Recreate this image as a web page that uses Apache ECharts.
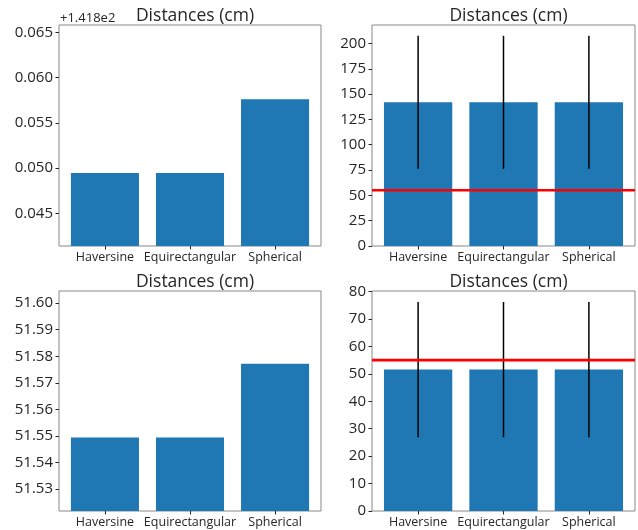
<!DOCTYPE html>
<html>
<head>
<meta charset="utf-8">
<script src="https://cdn.jsdelivr.net/npm/echarts@6/dist/echarts.min.js"></script>
<style>
html,body{margin:0;padding:0;background:#fff;}
#chart{width:638px;height:530px;}
</style>
</head>
<body>
<div id="chart"></div>
<script>
// ---- data ----
const categories = ['Haversine', 'Equirectangular', 'Spherical'];
const distTop = [141.84945, 141.84945, 141.8576];   // cm
const errTop = [65.7, 65.7, 65.7];
const distBottom = [51.5494, 51.5494, 51.5772];     // cm
const errBottom = [24.65, 24.65, 24.65];
const threshold = 55;
const titleText = 'Distances (cm)';
const offsetLabel = '+1.418e2';
const offsetValue = 141.8;
const ticksTopLeft = [141.845, 141.85, 141.855, 141.86, 141.865];
const ticksTopRight = [0, 25, 50, 75, 100, 125, 150, 175, 200];
const ticksBottomLeft = [51.53, 51.54, 51.55, 51.56, 51.57, 51.58, 51.59, 51.60];
const ticksBottomRight = [0, 10, 20, 30, 40, 50, 60, 70, 80];

const FONT = 'Open Sans';
const TEXT = '#262626';
const FRAME = '#888';
const BAR = '#1f77b4';

const chart = echarts.init(document.getElementById('chart'), null, {renderer: 'canvas'});

const grids = [
  {left: 59, top: 25, width: 262, height: 221},
  {left: 372, top: 25, width: 263, height: 221},
  {left: 59, top: 291, width: 262, height: 220},
  {left: 372, top: 291, width: 263, height: 220}
];

function xAxis(i) {
  return {
    type: 'value', gridIndex: i, min: -0.54, max: 2.54,
    axisLine: {show: false, onZero: false},
    splitLine: {show: false},
    axisTick: {show: true, customValues: [0, 1, 2], length: 3.5, lineStyle: {color: TEXT}},
    axisLabel: {
      customValues: [0, 1, 2], margin: 5,
      formatter: v => categories[Math.round(v)] || '',
      color: TEXT, fontFamily: FONT, fontSize: 12.5
    }
  };
}
function yAxis(i, min, max, ticks, fmt) {
  return {
    type: 'value', gridIndex: i, min: min, max: max,
    axisLine: {show: false, onZero: false},
    splitLine: {show: false},
    axisTick: {show: true, customValues: ticks, length: 3.5, lineStyle: {color: TEXT}},
    axisLabel: {customValues: ticks, margin: 6, formatter: fmt, color: TEXT, fontFamily: FONT, fontSize: 15}
  };
}

function barRender(params, api) {
  const x = api.value(0), y = api.value(1);
  const p1 = api.coord([x - 0.4, y]);
  const p0 = api.coord([x + 0.4, 0]);
  const cs = params.coordSys;
  const r = echarts.graphic.clipRectByRect(
    {x: p1[0], y: p1[1], width: p0[0] - p1[0], height: p0[1] - p1[1]},
    {x: cs.x, y: cs.y, width: cs.width, height: cs.height});
  if (!r) return null;
  return {type: 'rect', shape: r, style: {fill: BAR}};
}
function errRender(params, api) {
  const x = api.value(0), y = api.value(1), e = api.value(2);
  const a = api.coord([x, y - e]);
  const b = api.coord([x, y + e]);
  return {type: 'line', shape: {x1: a[0], y1: a[1], x2: b[0], y2: b[1]}, style: {stroke: '#000', lineWidth: 1.5}};
}

function barSeries(i, vals) {
  return {type: 'custom', xAxisIndex: i, yAxisIndex: i, renderItem: barRender,
          data: vals.map((v, k) => [k, v]), silent: true, z: 2};
}
function errSeries(i, vals, errs) {
  return {type: 'custom', xAxisIndex: i, yAxisIndex: i, renderItem: errRender,
          data: vals.map((v, k) => [k, v, errs[k]]), silent: true, z: 3};
}
function threshSeries(i) {
  return {type: 'line', xAxisIndex: i, yAxisIndex: i, data: [[-0.54, threshold], [2.54, threshold]],
          symbol: 'none', lineStyle: {color: '#ff0000', width: 2.6}, silent: true, z: 4, animation: false};
}

const titles = grids.map(g => ({
  text: titleText, left: g.left + g.width / 2, top: g.top - 23, textAlign: 'center',
  textStyle: {fontFamily: FONT, fontSize: 17.5, fontWeight: 'normal', color: TEXT}
}));

chart.setOption({
  animation: false,
  backgroundColor: '#fff',
  title: titles,
  grid: grids.map(g => Object.assign({show: true, borderColor: FRAME, borderWidth: 1, backgroundColor: 'transparent'}, g)),
  xAxis: [0, 1, 2, 3].map(xAxis),
  yAxis: [
    yAxis(0, 141.84139, 141.86581, ticksTopLeft, v => (v - offsetValue).toFixed(3)),
    yAxis(1, 0, 218.2, ticksTopRight, v => String(v)),
    yAxis(2, 51.5217, 51.6046, ticksBottomLeft, v => v.toFixed(2)),
    yAxis(3, 0, 80.2, ticksBottomRight, v => String(v))
  ],
  graphic: [{
    type: 'text', left: 60, top: 12,
    style: {text: offsetLabel, fontFamily: FONT, fontSize: 13, fill: TEXT}
  }],
  series: [
    barSeries(0, distTop),
    barSeries(1, distTop), errSeries(1, distTop, errTop), threshSeries(1),
    barSeries(2, distBottom),
    barSeries(3, distBottom), errSeries(3, distBottom, errBottom), threshSeries(3)
  ]
});
</script>
</body>
</html>
